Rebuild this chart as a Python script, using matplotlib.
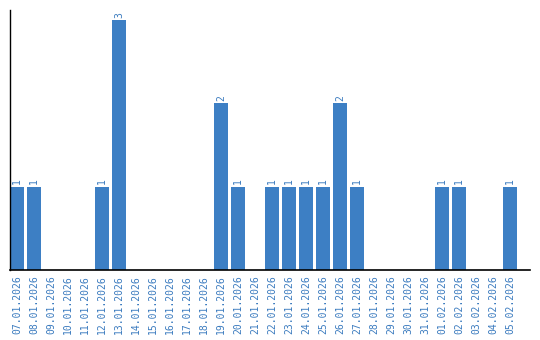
import matplotlib
matplotlib.use("Agg")
import matplotlib.pyplot as plt

dates = ["07.01.2026","08.01.2026","09.01.2026","10.01.2026","11.01.2026","12.01.2026",
         "13.01.2026","14.01.2026","15.01.2026","16.01.2026","17.01.2026","18.01.2026",
         "19.01.2026","20.01.2026","21.01.2026","22.01.2026","23.01.2026","24.01.2026",
         "25.01.2026","26.01.2026","27.01.2026","28.01.2026","29.01.2026","30.01.2026",
         "31.01.2026","01.02.2026","02.02.2026","03.02.2026","04.02.2026","05.02.2026"]
values = [1,1,0,0,0,1,3,0,0,0,0,0,2,1,0,1,1,1,1,2,1,0,0,0,0,1,1,0,0,1]

bar_color = "#3d7fc4"
text_color = "#3b7bbf"

fig = plt.figure(figsize=(5.4, 3.4), dpi=100)
ax = fig.add_axes([10/540, 70/340, 520/540, 260/340])
x = list(range(len(dates)))
ax.bar(x, values, width=0.82, color=bar_color)
for xi, v in zip(x, values):
    if v > 0:
        ax.text(xi, v + 0.03, str(v), rotation=90, ha="center", va="bottom",
                color=text_color, fontsize=7, family="DejaVu Sans Mono")
ax.set_xlim(-0.41, 30.18)
ax.set_ylim(0, 3.12)
ax.set_xticks(x)
ax.set_xticklabels(dates, rotation=90, color=text_color, fontsize=7, family="DejaVu Sans Mono")
ax.tick_params(axis="x", length=0, pad=4)
ax.set_yticks([])
ax.spines["top"].set_visible(False)
ax.spines["right"].set_visible(False)
ax.spines["left"].set_color("black")
ax.spines["bottom"].set_color("black")
ax.spines["left"].set_linewidth(1)
ax.spines["bottom"].set_linewidth(1.2)
fig.savefig("out.png", dpi=100)
